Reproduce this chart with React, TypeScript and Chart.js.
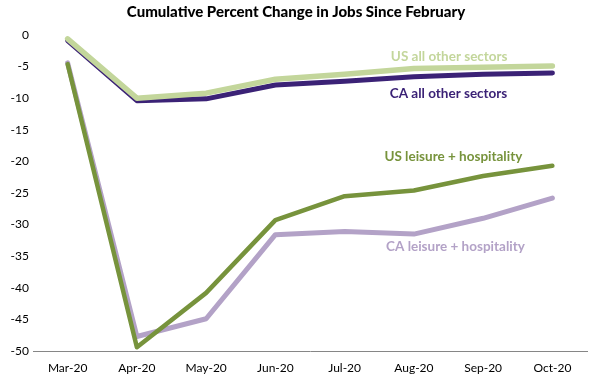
import React, { useEffect, useRef } from "react";
import { Chart, registerables } from "chart.js";

Chart.register(...registerables);

const categories = ["Mar-20", "Apr-20", "May-20", "Jun-20", "Jul-20", "Aug-20", "Sep-20", "Oct-20"];
const usAllOther = [-0.6, -10.0, -9.2, -7.0, -6.2, -5.3, -5.1, -4.9];
const caAllOther = [-0.9, -10.4, -10.1, -7.9, -7.3, -6.6, -6.2, -6.0];
const usLeisure = [-4.6, -49.4, -40.8, -29.3, -25.5, -24.6, -22.3, -20.7];
const caLeisure = [-4.4, -47.7, -44.9, -31.6, -31.1, -31.5, -29.0, -25.8];
const yTicks = [0, -5, -10, -15, -20, -25, -30, -35, -40, -45, -50];

const title = "Cumulative Percent Change in Jobs Since February";
const seriesLabels = [
  { text: "US all other sectors", color: "#c3d69b", x: 5.51, y: -3.5 },
  { text: "CA all other sectors", color: "#3b2276", x: 5.5, y: -9.2 },
  { text: "US leisure + hospitality", color: "#77933c", x: 5.57, y: -19.3 },
  { text: "CA leisure + hospitality", color: "#b3a2c7", x: 5.6, y: -33.5 },
];

const FONT = "Lato, 'DejaVu Sans', sans-serif";

const labelPlugin = {
  id: "labelPlugin",
  afterDraw(chart: any) {
    const ctx = chart.ctx;
    const xs = chart.scales.x;
    const ys = chart.scales.y;
    ctx.save();
    ctx.textAlign = "center";
    ctx.textBaseline = "middle";
    ctx.font = `900 15px ${FONT}`;
    ctx.fillStyle = "#000000";
    ctx.fillText(title, 296, 12);
    ctx.font = `bold 13.5px ${FONT}`;
    for (const l of seriesLabels) {
      ctx.fillStyle = l.color;
      ctx.fillText(l.text, xs.getPixelForValue(l.x), ys.getPixelForValue(l.y));
    }
    ctx.restore();
  },
};

export default function App() {
  const ref = useRef<HTMLCanvasElement | null>(null);
  useEffect(() => {
    document.body.style.margin = "0";
    const ds = (label: string, data: number[], color: string, w: number, order: number) => ({
      label,
      data,
      borderColor: color,
      backgroundColor: color,
      borderWidth: w,
      pointRadius: 0,
      tension: 0,
      borderCapStyle: "round" as const,
      borderJoinStyle: "round" as const,
      order,
    });
    const chart = new Chart(ref.current!, {
      type: "line",
      data: {
        labels: categories,
        datasets: [
          ds("CA leisure + hospitality", caLeisure, "#b3a2c7", 5, 4),
          ds("US leisure + hospitality", usLeisure, "#77933c", 4.5, 3),
          ds("CA all other sectors", caAllOther, "#3b2276", 5, 2),
          ds("US all other sectors", usAllOther, "#c3d69b", 5.5, 1),
        ],
      },
      options: {
        responsive: false,
        animation: false,
        layout: { padding: { top: 35, right: 5, left: 0, bottom: 0 } },
        plugins: { legend: { display: false }, title: { display: false }, tooltip: { enabled: false } },
        scales: {
          x: {
            offset: true,
            grid: { display: false, drawTicks: false },
            border: { display: true, color: "#868686", width: 1 },
            ticks: { padding: 10, color: "#000", font: { family: FONT, size: 12 }, maxRotation: 0 },
            afterFit: (s: any) => { s.height = 31; },
          },
          y: {
            min: -50,
            max: 0,
            afterBuildTicks: (s: any) => { s.ticks = yTicks.map((v) => ({ value: v })); },
            grid: { display: false, drawTicks: false },
            border: { display: false },
            ticks: { padding: 4, color: "#000", font: { family: FONT, size: 12 } },
            afterFit: (s: any) => { s.width = 33; },
          },
        },
      },
      plugins: [labelPlugin],
    });
    return () => chart.destroy();
  }, []);
  return <canvas ref={ref} width={592} height={382} style={{ display: "block" }} />;
}
